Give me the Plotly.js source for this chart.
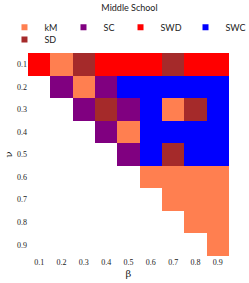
<!DOCTYPE html>
<html>
<head>
<meta charset="utf-8">
<script src="https://cdn.plot.ly/plotly-3.0.1.min.js"></script>
<style>html,body{margin:0;padding:0;background:#fff;}#chart{width:249px;height:283px;}</style>
</head>
<body>
<div id="chart"></div>
<script>
const betas = [0.1, 0.2, 0.3, 0.4, 0.5, 0.6, 0.7, 0.8, 0.9];
const nus = [0.1, 0.2, 0.3, 0.4, 0.5, 0.6, 0.7, 0.8, 0.9];
const categories = ["kM", "SC", "SWD", "SWC", "SD"];
const catColors = ["#FF7F50", "#800080", "#FF0000", "#0000FF", "#A52A2A"];
// rows: nu = 0.1 .. 0.9 ; columns: beta = 0.1 .. 0.9
const gridLabels = [
  ["SWD", "kM", "SD", "SWD", "SWD", "SWD", "SD", "SWD", "SWD"],
  [null, "SC", "kM", "SC", "SWC", "SWC", "SWC", "SWC", "SWC"],
  [null, null, "SC", "SD", "SC", "SWC", "kM", "SD", "SWC"],
  [null, null, null, "SC", "kM", "SWC", "SWC", "SWC", "SWC"],
  [null, null, null, null, "SC", "SWC", "SD", "SWC", "SWC"],
  [null, null, null, null, null, "kM", "kM", "kM", "kM"],
  [null, null, null, null, null, null, "kM", "kM", "kM"],
  [null, null, null, null, null, null, null, "kM", "kM"],
  [null, null, null, null, null, null, null, null, "kM"]
];
const tickText = ["0.1", "0.2", "0.3", "0.4", "0.5", "0.6", "0.7", "0.8", "0.9"];

const n = categories.length;
const z = gridLabels.map(r => r.map(v => v === null ? null : categories.indexOf(v)));
const colorscale = [];
catColors.forEach((c, i) => {
  colorscale.push([i / n, c]);
  colorscale.push([(i + 1) / n, c]);
});

const traces = [{
  type: "heatmap", x: betas, y: nus, z: z,
  zmin: 0, zmax: n, colorscale: colorscale, showscale: false,
  hoverongaps: false, showlegend: false
}];
const legendIds = ["legend", "legend2", "legend3", "legend4", "legend5"];
categories.forEach((c, i) => {
  traces.push({
    type: "scatter", mode: "markers", x: [null], y: [null], name: c,
    legend: legendIds[i],
    marker: {symbol: "square", size: 6, color: catColors[i]}
  });
});

const layout = {
  width: 249, height: 283,
  margin: {l: 28, r: 20, t: 53, b: 27, autoexpand: false},
  paper_bgcolor: "#fff", plot_bgcolor: "#fff",
  font: {family: "Lato, sans-serif", size: 9, color: "#222"},
  title: {text: "Middle School", x: 0.52, xanchor: "center", y: 0.985, yanchor: "top", font: {size: 9, family: "Lato, sans-serif", color: "#222"}},
  showlegend: true,
  xaxis: {title: {text: "β", font: {size: 10, family: "DejaVu Serif, serif"}, standoff: 3},
          tickvals: betas, ticktext: tickText, showgrid: false, zeroline: false, showline: false, ticks: "",
          range: [0.05, 0.95], tickfont: {size: 8, family: "Liberation Serif, serif", color: "#222"}},
  yaxis: {title: {text: "ν", font: {size: 10, family: "DejaVu Serif, serif"}, standoff: 2},
          tickvals: nus, ticktext: tickText, showgrid: false, zeroline: false, showline: false, ticks: "",
          range: [0.95, 0.05], tickfont: {size: 8, family: "Liberation Serif, serif", color: "#222"}}
};
// legend placement (container fractions)
const legendX = [0.018, 0.255, 0.484, 0.745, 0.018];
const legendY = [0.955, 0.955, 0.955, 0.955, 0.912];
legendIds.forEach((id, i) => {
  layout[id] = {xref: "container", yref: "container", x: legendX[i], y: legendY[i],
    xanchor: "left", yanchor: "top", orientation: "h", itemwidth: 30,
    font: {size: 9, family: "Lato, sans-serif", color: "#222"}, bgcolor: "rgba(0,0,0,0)"};
});
Plotly.newPlot("chart", traces, layout, {displayModeBar: false, staticPlot: true});
</script>
</body>
</html>
